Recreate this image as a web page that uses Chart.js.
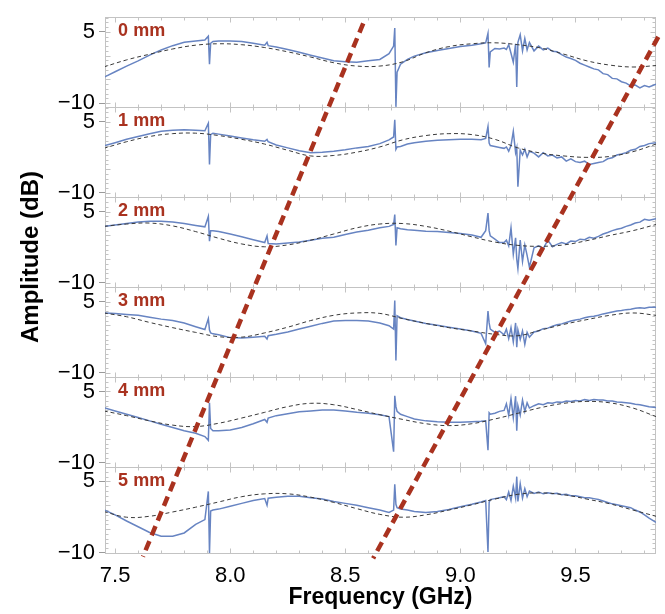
<!DOCTYPE html>
<html>
<head>
<meta charset="utf-8">
<script src="https://cdn.jsdelivr.net/npm/chart.js@4.4.1/dist/chart.umd.min.js"></script>
<style>
  html, body { margin: 0; padding: 0; background: #fff; }
  #wrap { position: relative; width: 665px; height: 614px; }
  #yTitle {
    position: absolute; left: 30px; top: 257px;
    transform: translate(-50%, -50%) rotate(-90deg);
    font: bold 24px "Liberation Sans", Arial, sans-serif;
    white-space: nowrap; color: #000;
  }
</style>
</head>
<body>
<div id="wrap">
  <canvas id="grafico" width="665" height="614"></canvas>
  <div id="yTitle">Amplitude (dB)</div>
</div>
<script>
const FONT = '"Liberation Sans", Arial, Helvetica, sans-serif';

// frequency grid of the measured traces (GHz), denser around the resonances
const freqs = [
  7.45, 7.50, 7.55, 7.60, 7.65, 7.70, 7.75, 7.80, 7.85, 7.89,
  7.905, 7.91, 7.915, 7.925, 7.95,
  8.00, 8.05, 8.10, 8.15,
  8.16, 8.165,
  8.20, 8.25, 8.30, 8.35, 8.40, 8.45, 8.50, 8.55, 8.60, 8.65, 8.69,
  8.71, 8.715, 8.72, 8.725, 8.74, 8.77,
  8.80, 8.85, 8.90, 8.95, 9.00, 9.05, 9.09,
  9.11, 9.12, 9.125, 9.13, 9.15, 9.17,
  9.19, 9.20, 9.21, 9.22, 9.23, 9.24, 9.245, 9.25, 9.26, 9.27, 9.28, 9.29, 9.30,
  9.32, 9.34, 9.36, 9.38, 9.40, 9.42, 9.44, 9.46, 9.48, 9.50, 9.52, 9.54, 9.56,
  9.58, 9.60, 9.62, 9.64, 9.66, 9.68, 9.70, 9.72, 9.74, 9.76, 9.78, 9.80, 9.82, 9.85
];

// measured amplitude (dB), one array per gap
const amp0 = [
  -4.6, -3.4, -2.2, -1.1, 0.1, 1.2, 2.1, 2.8, 3.1, 3.3,
  4.1, -1.8, 2.6, 3.0, 3.1,
  3.1, 3.0, 2.6, 2.2,
  2.8, 2.1,
  1.8, 1.3, 0.7, 0.1, -0.5, -1.1, -1.3, -1.4, -1.1, -0.8, 0.4,
  2.0, 5.8, -10.8, -3.5, -1.8, -0.8,
  -0.1, 0.6, 1.1, 1.5, 1.9, 2.2, 2.5,
  2.7, 4.7, -2.5, 0.8, 1.5, 1.4,
  1.6, 1.3, 2.3, 0.5, -1.4, 2.5, -6.6, 2.8, 4.4, 1.0, 3.6, 1.2, 2.8,
  1.0, 2.0, 1.2, 1.6, 0.9, 0.8, 0.2, -0.3, -0.6, -1.0, -1.6, -2.0, -2.4,
  -2.8, -3.0, -3.8, -4.0, -4.8, -4.9, -5.5, -5.8, -6.4, -6.2, -6.8, -6.3, -6.6, -6.0
];
const amp1 = [
  -0.1, 0.6, 1.3, 1.9, 2.5, 3.0, 3.2, 3.3, 3.2, 3.1,
  4.7, -4.0, 2.3, 2.6, 2.4,
  2.0, 1.6, 1.2, 0.9,
  1.3, 0.8,
  0.1, -0.5, -1.1, -1.5, -1.4, -1.2, -0.9, -0.5, -0.2, 0.4, 1.2,
  1.8, 5.4, -0.8, -0.3, -0.2, 0.3,
  0.6, 0.9, 1.1, 1.2, 1.3, 1.3, 1.2,
  1.5, 4.0, 0.5, 0.0, -0.2, -0.4,
  -0.6, -0.3, -1.2, 0.0, 3.0, -1.5, -0.5, -8.7, -1.0, -2.0, -0.8, -2.4, -1.2,
  -1.6, -2.4, -1.5, -2.2, -2.0, -2.6, -2.4, -3.3, -2.8, -3.4, -3.6, -3.3, -4.0,
  -3.8, -3.6, -3.4, -2.8, -2.6, -2.0, -1.8, -1.5, -1.0, -0.8, -0.2, 0.0, 0.4, 0.6
];
const amp2 = [
  1.9, 2.2, 2.5, 2.8, 3.0, 3.0, 2.8, 2.5, 2.1, 1.8,
  4.0, -1.2, 1.0, 1.0, 0.8,
  0.3, -0.3, -0.9, -1.5,
  -0.1, -1.7,
  -1.8, -1.6, -1.4, -1.0, -0.6, -0.4, 0.2, 0.7, 1.1, 1.6, 1.9,
  2.3, 4.4, -2.1, 1.6, 1.4, 1.2,
  1.1, 0.9, 0.8, 0.6, 0.4, 0.1, -0.4,
  1.0, 4.7, 1.0, -0.1, -0.8, -1.5,
  -1.5, -1.0, -2.2, 1.6, -4.0, -0.5, -5.0, -7.0, -1.0, -5.5, -2.0, -4.2, -6.7,
  -2.6, -2.2, -2.8, -1.0, -2.4, -1.9, -1.5, -1.8, -1.2, -1.3, -0.8, -0.9, -0.4,
  -0.6, -0.2, 0.3, 0.6, 1.0, 1.3, 1.5, 1.9, 2.2, 2.6, 2.8, 3.4, 3.2, 3.5
];
const amp3 = [
  2.6, 2.5, 2.3, 2.1, 1.7, 1.3, 1.0, 0.5, -0.3, -0.9,
  1.4, -1.0, -1.6, -1.8, -2.0,
  -2.6, -2.7, -2.5, -2.3,
  -2.9, -2.2,
  -1.9, -1.4, -0.8, -0.2, 0.4, 0.9, 1.0, 1.0, 0.9, 0.5, -0.1,
  -0.8, 5.2, -7.4, 2.0, 1.6, 1.2,
  0.9, 0.4, 0.0, -0.4, -0.8, -1.2, -1.7,
  -3.9, 3.0, 0.5, -0.8, -1.5, -1.2,
  -2.0, -0.8, -2.8, -0.5, -3.5, 0.5, -4.6, -1.0, -3.0, -1.2, -4.0, -1.5, -2.5,
  -1.4, -1.2, -0.7, -0.6, -0.2, 0.1, 0.3, 0.6, 0.9, 1.1, 1.3, 1.6, 1.8,
  1.9, 2.1, 2.4, 2.6, 2.8, 3.0, 3.1, 3.3, 3.4, 3.6, 3.7, 3.6, 3.8, 3.8
];
const amp4 = [
  1.6, 0.9, 0.2, -0.5, -1.2, -1.9, -2.6, -3.3, -3.8, -4.5,
  -5.3, 2.6, -2.8, -3.3, -3.3,
  -3.1, -2.6, -1.8, -0.9,
  -1.5, -0.6,
  -0.1, 0.3, 0.7, 0.9, 1.1, 1.1, 0.9, 0.6, 0.4, 0.1, -0.3,
  -7.7, 4.1, 1.8, 0.8, 0.2, -0.3,
  -0.8, -1.2, -1.4, -1.5, -1.5, -1.4, -1.3,
  -1.2, -7.4, 0.5, 0.2, 0.4, 0.8,
  1.0, 2.4, 0.0, 3.5, -0.5, 4.0, -3.3, 2.0, 0.0, 3.2, 0.8, 2.6, 1.5,
  2.0, 2.4, 2.2, 2.6, 2.5, 2.8, 2.7, 3.0, 2.9, 3.1, 3.0, 3.3, 3.1,
  3.3, 3.2, 3.2, 3.0, 3.0, 2.8, 2.7, 2.6, 2.5, 2.3, 2.2, 2.0, 1.8, 1.6
];
const amp5 = [
  -0.9, -2.0, -3.3, -4.5, -5.7, -6.5, -6.5, -5.8, -4.0, -3.0,
  2.9, -10.0, -1.2, -1.0, -0.8,
  -0.2, 0.4, 1.0, 1.4,
  0.0, 1.5,
  1.7, 1.9, 1.9, 1.6, 1.3, 0.8, 0.4, 0.0, -0.5, -1.0, -1.5,
  -1.0, 4.4, 0.2, -0.5, -0.8, -1.0,
  -1.3, -1.5, -1.3, -0.9, -0.3, 0.2, 0.7,
  1.0, -9.8, 0.6, 1.2, 1.4, 1.6,
  1.8, 1.2, 2.8, 1.0, 4.0, 1.5, 6.0, 0.8, 4.5, 1.5, 3.5, 1.8, 3.0,
  2.5, 2.8, 2.4, 2.6, 2.4, 2.5, 2.2, 2.3, 2.0, 2.0, 1.8, 1.6, 1.6,
  1.4, 1.2, 0.9, 0.6, 0.3, 0.1, -0.1, -0.3, -0.5, -1.0, -1.4, -2.0, -2.7, -3.6
];

// model curves (dB), sampled every 0.1 GHz
const fitFreqs = [
  7.45, 7.55, 7.65, 7.75, 7.85, 7.95, 8.05, 8.15, 8.25, 8.35, 8.45, 8.55, 8.65,
  8.75, 8.85, 8.95, 9.05, 9.15, 9.25, 9.35, 9.45, 9.55, 9.65, 9.75, 9.85
];
const fit0 = [-2.4, -0.9, 0.3, 1.4, 2.2, 2.5, 2.3, 1.7, 0.8, -0.3, -1.5, -2.2, -2.2,
  -1.3, 0.6, 1.9, 2.5, 2.7, 2.3, 1.6, 0.3, -1.1, -2.0, -2.4, -2.1];
const fit1 = [-0.6, 0.8, 1.9, 2.5, 2.6, 2.1, 1.3, 0.3, -1.0, -2.2, -2.1, -1.4, -0.3,
  1.2, 2.1, 2.5, 2.3, 1.3, -0.5, -1.6, -2.2, -2.5, -2.3, -1.3, 0.3];
const fit2 = [1.9, 2.4, 2.6, 2.0, 0.8, -0.6, -1.8, -2.4, -2.0, -1.0, 0.3, 1.6, 2.4,
  2.5, 1.9, 0.9, -0.3, -1.4, -2.1, -2.3, -2.0, -1.1, 0.0, 1.0, 2.3];
const fit3 = [2.6, 1.8, 0.6, -0.5, -1.5, -2.4, -2.5, -1.6, -0.4, 1.0, 2.1, 2.6, 2.5,
  1.4, 0.4, -0.5, -1.2, -1.9, -2.2, -1.0, 0.2, 1.2, 2.1, 2.6, 2.1];
const fit4 = [0.9, -0.1, -1.2, -2.1, -2.4, -1.7, -0.6, 0.6, 1.8, 2.5, 2.2, 1.2, 0.1,
  -0.9, -1.8, -2.2, -1.8, -0.8, 0.4, 1.6, 2.5, 2.9, 2.6, 1.5, -0.3];
const fit5 = [-1.3, -2.5, -2.3, -1.4, -0.4, 0.7, 1.8, 2.4, 2.4, 1.7, 0.6, -0.7, -1.9,
  -2.5, -2.0, -1.0, 0.1, 1.3, 2.3, 2.6, 2.2, 1.3, 0.3, -1.0, -2.3];

// resonance shift guides: [frequency, row] with row 0 at the top, 6 at the bottom
const shiftA = [[8.578, 0.07], [7.621, 6.04]];
const shiftB = [[9.86, 0.22], [8.621, 6.06]];

const gapLabels = ['0 mm', '1 mm', '2 mm', '3 mm', '4 mm', '5 mm'];
const xTicks = [7.5, 8.0, 8.5, 9.0, 9.5];
const yTicks = [-10, 5];

const measured = [amp0, amp1, amp2, amp3, amp4, amp5];
const fits = [fit0, fit1, fit2, fit3, fit4, fit5];
const panelIds = gapLabels.map((_, i) => 'y' + i);

const toPoints = (xs, ys) => xs.map((x, i) => ({ x: x, y: ys[i] }));
const pairs = arr => arr.map(p => ({ x: p[0], y: p[1] }));

const datasets = [];
[shiftA, shiftB].forEach(line => {
  datasets.push({
    data: pairs(line), yAxisID: 'rows', borderColor: '#a9321f', borderWidth: 4.5,
    borderDash: [10, 6], pointRadius: 0, clip: false, order: 0
  });
});
measured.forEach((amp, i) => {
  datasets.push({
    data: toPoints(freqs, amp), yAxisID: panelIds[i], borderColor: '#6784c2',
    borderWidth: 1.5, pointRadius: 0, tension: 0, order: 2
  });
  datasets.push({
    data: toPoints(fitFreqs, fits[i]), yAxisID: panelIds[i], borderColor: '#3a3a3a',
    borderWidth: 1, borderDash: [4, 3], pointRadius: 0, tension: 0.4, order: 1
  });
});

const scales = {
  x: {
    type: 'linear', position: 'bottom', min: 7.456, max: 9.85,
    afterBuildTicks: s => { s.ticks = xTicks.map(v => ({ value: v })); },
    afterFit: s => { s.height = 58; },
    ticks: { font: { family: FONT, size: 22 }, color: '#000', padding: 2, maxRotation: 0,
             autoSkip: false, callback: v => v.toFixed(1) },
    grid: { display: false },
    border: { display: false },
    title: { display: true, text: 'Frequency (GHz)', color: '#000', padding: 0,
             font: { family: FONT, size: 23, weight: 'bold' } }
  },
  rows: { type: 'linear', position: 'left', display: false, min: 0, max: 6, reverse: true, weight: 10 }
};
panelIds.forEach((id, i) => {
  scales[id] = {
    type: 'linear', position: 'left', stack: 'panels', weight: 6 - i,
    stackWeight: i === 5 ? 88 : 91.6,
    min: i === 5 ? -10 : -10.85, max: 8.1,
    afterBuildTicks: s => { s.ticks = yTicks.map(v => ({ value: v })); },
    afterFit: s => { s.width = 105; },
    ticks: { font: { family: FONT, size: 22 }, color: '#000', padding: 4,
             callback: v => (v < 0 ? '\u2212' + Math.abs(v) : String(v)) },
    grid: { drawOnChartArea: false, drawTicks: true, tickLength: 6, color: '#9a9a9a' },
    border: { display: false }
  };
});

// panel frames with inward ticks, and the gap label of each panel
const molduras = {
  id: 'molduras',
  beforeDatasetsDraw(chart) {
    const ctx = chart.ctx;
    const x = chart.scales.x;
    ctx.save();
    ctx.strokeStyle = '#c3c3c3';
    ctx.lineWidth = 1;
    panelIds.forEach(id => {
      const s = chart.scales[id];
      const top = Math.round(s.top) + 0.5, bottom = Math.round(s.bottom) + 0.5;
      const left = Math.round(x.left) + 0.5, right = Math.round(x.right) - 0.5;
      ctx.strokeRect(left, top, right - left, bottom - top);
      ctx.beginPath();
      for (let k = 75; k <= 98; k++) {
        const px = Math.round(x.getPixelForValue(k / 10)) + 0.5;
        const len = k % 5 === 0 ? 5 : 3;
        ctx.moveTo(px, bottom); ctx.lineTo(px, bottom - len);
        ctx.moveTo(px, top); ctx.lineTo(px, top + len);
      }
      for (let v = Math.ceil(s.min); v <= s.max; v++) {
        const py = Math.round(s.getPixelForValue(v)) + 0.5;
        const len = v % 5 === 0 ? 5 : 3;
        ctx.moveTo(left, py); ctx.lineTo(left + len, py);
        ctx.moveTo(right, py); ctx.lineTo(right - len, py);
      }
      ctx.stroke();
    });
    ctx.restore();
  },
  afterDraw(chart) {
    const ctx = chart.ctx;
    const x = chart.scales.x;
    ctx.save();
    ctx.fillStyle = '#a9321f';
    ctx.font = 'bold 18px ' + FONT;
    ctx.textBaseline = 'alphabetic';
    panelIds.forEach((id, i) => {
      const s = chart.scales[id];
      ctx.fillText(gapLabels[i], x.getPixelForValue(7.513), s.getPixelForValue(4.1));
    });
    ctx.restore();
  }
};

new Chart(document.getElementById('grafico'), {
  type: 'line',
  data: { datasets: datasets },
  options: {
    responsive: false,
    animation: false,
    events: [],
    layout: { padding: { top: 7, right: 9, bottom: 3, left: 0 } },
    plugins: { legend: { display: false }, tooltip: { enabled: false } },
    scales: scales
  },
  plugins: [molduras]
});
</script>
</body>
</html>
